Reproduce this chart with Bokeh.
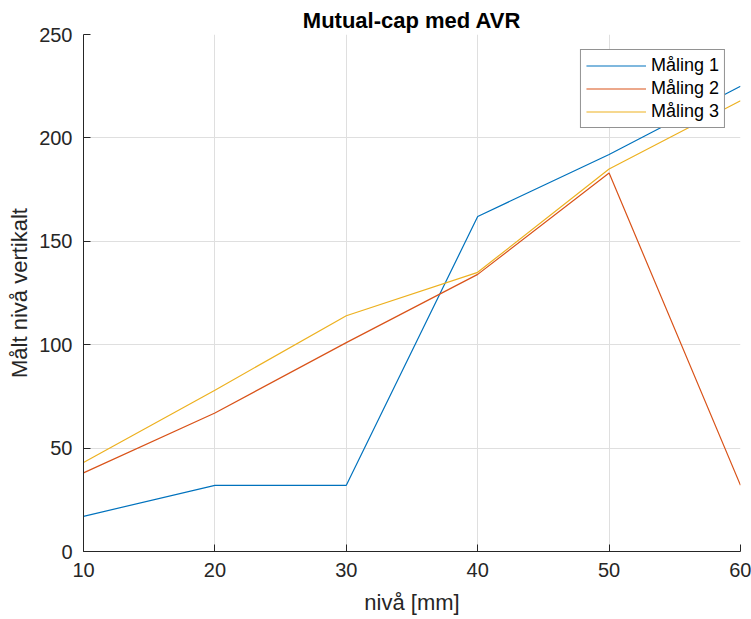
from bokeh.plotting import figure
from bokeh.models import Range1d, FixedTicker, Legend, LegendItem
from bokeh.embed import file_html
from bokeh.resources import INLINE

nivaa = [10, 20, 30, 40, 50, 60]
maaling1 = [17, 32, 32, 162, 192, 225]
maaling2 = [38, 67, 101, 134, 183, 32]
maaling3 = [43, 78, 114, 135, 185, 218]
series_names = ["Måling 1", "Måling 2", "Måling 3"]
x_ticks = [10, 20, 30, 40, 50, 60]
y_ticks = [0, 50, 100, 150, 200, 250]

colors = ["#0072BD", "#D95319", "#EDB120"]
FONT = "Liberation Sans"
TXT = "#262626"

p = figure(width=751, height=619, output_backend="svg", toolbar_location=None,
           x_range=Range1d(10, 60), y_range=Range1d(0, 250),
           min_border_left=83, min_border_right=11, min_border_top=34, min_border_bottom=68)
p.outline_line_color = None

p.title.text = "Mutual-cap med AVR"
p.title.text_font = FONT
p.title.text_font_size = "22px"
p.title.text_font_style = "bold"
p.title.text_color = "#000000"
p.title.align = "center"
p.title.standoff = 4
p.title.offset = 0

renderers = []
for ys, c in zip([maaling1, maaling2, maaling3], colors):
    r = p.line(nivaa, ys, line_color=c, line_width=1.2)
    renderers.append(r)

legend = Legend(items=[LegendItem(label=n, renderers=[r]) for n, r in zip(series_names, renderers)],
                location="top_right")
legend.margin = 15
legend.padding = 5
legend.spacing = 2
legend.glyph_width = 60
legend.glyph_height = 21
legend.label_height = 21
legend.label_standoff = 5
legend.label_text_font = FONT
legend.label_text_font_size = "18px"
legend.label_text_color = "#000000"
legend.border_line_color = TXT
legend.border_line_width = 1
legend.background_fill_alpha = 1.0
p.add_layout(legend, "center")

for ax, ticks in ((p.xaxis, x_ticks), (p.yaxis, y_ticks)):
    ax.ticker = FixedTicker(ticks=ticks)
    ax.minor_tick_line_color = None
    ax.major_tick_in = 7
    ax.major_tick_out = 0
    ax.axis_line_color = TXT
    ax.major_tick_line_color = TXT
    ax.major_label_text_font = FONT
    ax.major_label_text_font_size = "20px"
    ax.major_label_text_color = TXT
    ax.axis_label_text_font = FONT
    ax.axis_label_text_font_size = "22px"
    ax.axis_label_text_font_style = "normal"
    ax.axis_label_text_color = TXT
    ax.major_label_standoff = 11

p.xaxis.axis_label = "nivå [mm]"
p.yaxis.axis_label = "Målt nivå vertikalt"
p.xaxis.axis_label_standoff = 10
p.yaxis.axis_label_standoff = 4

p.xgrid.ticker = FixedTicker(ticks=x_ticks)
p.ygrid.ticker = FixedTicker(ticks=y_ticks)
p.grid.grid_line_color = "#dfdfdf"
p.grid.grid_line_width = 1

open("out.html", "w").write(file_html(p, INLINE))
